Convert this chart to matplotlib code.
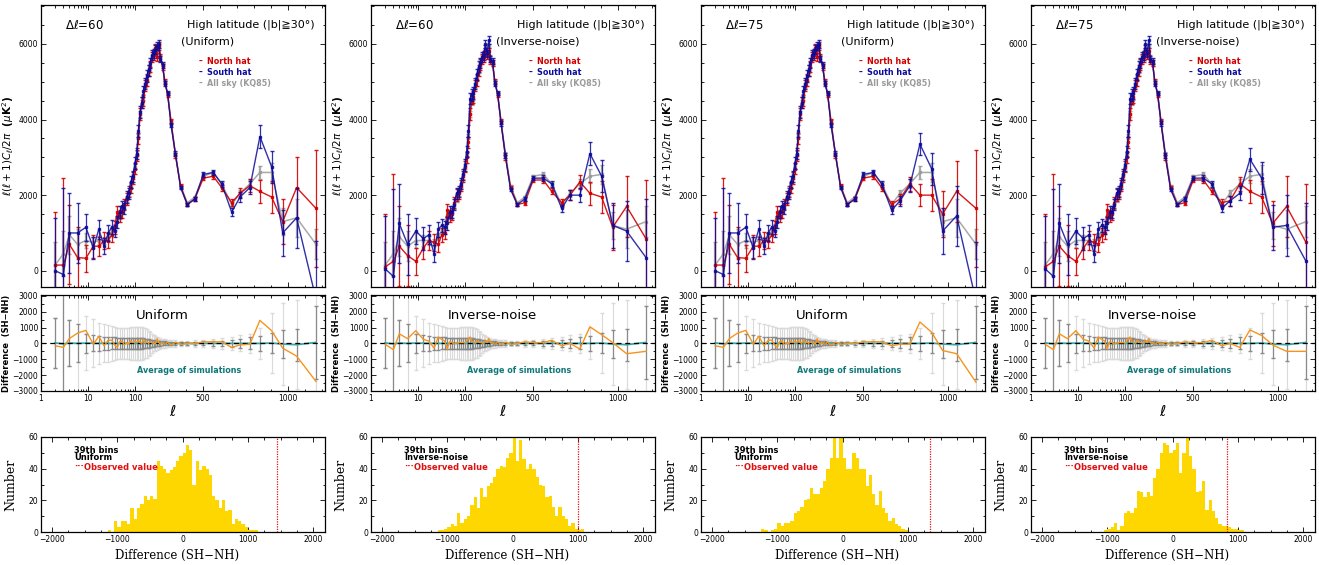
import numpy as np
import matplotlib
matplotlib.use("Agg")
import matplotlib.pyplot as plt
from matplotlib.ticker import FixedLocator, MultipleLocator, NullFormatter

# multipole bin centres
ell = [2, 3, 4, 6, 9, 13, 17, 22, 27, 32, 37, 42, 47, 53, 59, 66, 73, 81, 90,
       100, 110, 120, 130, 140, 150, 160, 170, 180, 190, 200, 210, 220, 230, 240, 250,
       262, 276, 292, 312, 338, 368, 408, 452, 502, 561, 610, 669, 718, 776,
       835, 904, 969, 1051, 1165]

# uniform weighting, dl=60
uni_nh = [150, 150, 700, 350, 330, 650, 650, 800, 800, 950, 1150, 1550, 1450, 1550, 1750, 1900, 2100, 2200, 2450,
          2700, 3050, 3500, 4150, 4450, 4500, 4900, 5050, 5300, 5400, 5650, 5700, 5900, 5650, 5950, 5650,
          5400, 5000, 4650, 3950, 3050, 2250, 1750, 1900, 2450, 2500, 2200, 1800, 2050, 2250,
          2100, 1950, 1300, 2200, 1650]
uni_sh = [0, -100, 1000, 1000, 1150, 600, 1100, 650, 1000, 1150, 1050, 1300, 1550, 1700, 1650, 1950, 2050, 2350, 2500,
          2850, 3100, 3700, 4200, 4450, 4750, 4950, 5150, 5300, 5500, 5700, 5750, 5850, 5950, 6000, 5600,
          5450, 4950, 4700, 3850, 3100, 2200, 1750, 1900, 2550, 2600, 2300, 1550, 1950, 2200,
          3550, 2750, 1000, 1400, -750]
uni_all = [150, 450, 950, 700, 800, 750, 800, 800, 900, 1050, 1150, 1350, 1450, 1600, 1700, 1900, 2050, 2250, 2500,
           2750, 3100, 3550, 4150, 4450, 4600, 4900, 5100, 5300, 5450, 5650, 5750, 5850, 5850, 5950, 5650,
           5450, 5000, 4700, 3950, 3100, 2250, 1800, 1950, 2500, 2600, 2300, 1750, 2050, 2300,
           2600, 2600, 1300, 1400, 700]

# inverse-noise weighting, dl=60
inv_nh = [100, 250, 650, 400, 250, 600, 800, 750, 700, 950, 1000, 1600, 1450, 1500, 1800, 2000, 2050, 2250, 2500,
          2750, 3000, 3400, 4150, 4550, 4600, 4900, 5050, 5300, 5450, 5600, 5650, 5850, 5700, 5800, 5550,
          5500, 5000, 4650, 3950, 3000, 2200, 1750, 1800, 2400, 2400, 2100, 1800, 2000, 2350,
          2050, 1950, 1150, 1700, 850]
inv_sh = [50, -150, 1250, 700, 1050, 850, 950, 450, 1100, 1200, 1150, 1250, 1550, 1550, 1750, 2050, 2100, 2300, 2550,
          2800, 3150, 3700, 4550, 4650, 4700, 4950, 5200, 5400, 5500, 5650, 5700, 6000, 5750, 6100, 5600,
          5550, 4950, 4700, 3900, 3050, 2150, 1750, 1900, 2450, 2450, 2300, 1650, 2000, 2000,
          3100, 2500, 1200, 1050, 350]
inv_all = [150, 450, 900, 650, 800, 800, 800, 750, 900, 1050, 1150, 1350, 1450, 1600, 1700, 1900, 2050, 2250, 2500,
           2750, 3100, 3550, 4150, 4450, 4600, 4900, 5100, 5300, 5450, 5650, 5750, 5850, 5850, 5950, 5650,
           5450, 5000, 4700, 3950, 3100, 2250, 1800, 1950, 2500, 2550, 2300, 1750, 2050, 2300,
           2500, 2550, 1200, 1100, 1300]

# high-l tails (l = 669 ... 1165) for dl=75
uni75_nh = [1750, 1900, 2300, 2000, 2000, 1500, 2100, 1650]
uni75_sh = [1600, 1850, 2250, 3350, 2700, 1050, 1450, -800]
inv75_nh = [1800, 1850, 2300, 2100, 1950, 1250, 1700, 750]
inv75_sh = [1650, 1850, 2050, 2950, 2450, 1150, 1200, 250]

err_hat = [1400, 2300, 1050, 800, 350, 300, 250, 220, 200, 180, 170, 160, 150, 150, 150, 150, 150, 150, 150,
           150, 150, 150, 150, 150, 150, 150, 150, 140, 140, 130, 120, 110, 100, 100, 90,
           80, 70, 60, 60, 60, 50, 50, 50, 60, 70, 80, 100, 130, 180,
           300, 420, 600, 800, 1550]
err_all = [600, 600, 500, 400, 200, 150, 120, 100, 90, 80, 80, 70, 70, 70, 70, 70, 70, 70, 70,
           70, 70, 70, 70, 70, 70, 70, 70, 70, 60, 60, 60, 50, 50, 50, 50,
           40, 40, 40, 40, 40, 30, 30, 30, 40, 50, 60, 70, 90, 120,
           180, 250, 350, 500, 400]

# simulations: mean and scatter of SH-NH
sim_mean = [30, -30, 20, 0, 20, 10, 0, 10, 0, 0, 10, 0, 0, 0, 0, 0, 0, 0, 0,
            0, 0, 0, 0, 0, 0, 0, 0, 0, 0, 0, 0, 0, 0, 0, 0,
            0, 0, 0, 0, 0, 0, 0, 0, 0, 0, 0, 0, 0, 0,
            0, 20, -40, -80, 60]
sim_sd1 = [1550, 3500, 1450, 1200, 600, 500, 450, 420, 400, 380, 370, 360, 350, 350, 350, 350, 350, 350, 350,
           350, 350, 350, 340, 330, 320, 300, 280, 260, 240, 220, 200, 180, 160, 150, 140,
           130, 120, 110, 100, 90, 90, 100, 110, 130, 150, 180, 220, 280, 380,
           450, 650, 900, 1000, 2300]
sim_sd2 = [1550, 3500, 1450, 3500, 1700, 1500, 1300, 1200, 1150, 1100, 1050, 1000, 1000, 1000, 1000, 1000, 1000, 1050, 1050,
           1050, 1050, 1050, 1050, 1050, 1000, 950, 900, 800, 700, 600, 500, 450, 400, 350, 300,
           280, 260, 240, 220, 200, 180, 170, 200, 230, 280, 330, 400, 500, 600,
           1000, 1900, 2600, 2800, 3500]

# histograms of the 39th bin (bin width 50)
hist_width = 50
hist1_start, hist1 = -1150, [1, 0, 7, 3, 7, 7, 5, 15, 8, 15, 18, 23, 20, 23, 21, 45, 42, 40, 37, 39, 41, 45, 48,
                             50, 55, 52, 30, 45, 39, 42, 40, 36, 23, 20, 15, 20, 13, 14, 5, 8, 7, 5, 3, 1, 1, 1]
hist2_start, hist2 = -1150, [1, 1, 2, 3, 5, 4, 12, 6, 8, 10, 17, 22, 15, 28, 22, 29, 31, 35, 40, 42, 41, 47, 50,
                             60, 45, 58, 46, 40, 43, 40, 35, 30, 29, 22, 23, 16, 10, 16, 10, 8, 4, 6, 2, 1, 2]
hist3_start, hist3 = -1250, [2, 1, 0, 1, 2, 6, 4, 6, 6, 7, 12, 13, 16, 20, 21, 28, 24, 24, 28, 32, 40, 47, 60,
                             47, 60, 47, 40, 40, 50, 47, 40, 40, 29, 36, 24, 17, 26, 15, 12, 7, 9, 5, 4, 2, 1]
hist4_start, hist4 = -1050, [1, 2, 3, 6, 1, 4, 12, 13, 12, 15, 26, 25, 22, 25, 23, 34, 40, 50, 56, 55, 50, 52,
                             56, 37, 50, 60, 48, 40, 25, 26, 32, 14, 20, 13, 9, 5, 4, 4, 3, 2, 2, 1, 1]
observed = [1450, 1000, 1330, 830]

columns = [
    dict(dl=60, w='Uniform', nh=uni_nh, sh=uni_sh, al=uni_all, hs=hist1_start, h=hist1),
    dict(dl=60, w='Inverse-noise', nh=inv_nh, sh=inv_sh, al=inv_all, hs=hist2_start, h=hist2),
    dict(dl=75, w='Uniform', nh=uni_nh[:46] + uni75_nh, sh=uni_sh[:46] + uni75_sh, al=uni_all, hs=hist3_start, h=hist3),
    dict(dl=75, w='Inverse-noise', nh=inv_nh[:46] + inv75_nh, sh=inv_sh[:46] + inv75_sh, al=inv_all, hs=hist4_start, h=hist4),
]

RED = '#d40000'
BLUE = '#0c0c9c'
GREY = '#9a9a9a'
ORANGE = '#f7941d'
TEAL = '#107878'
GOLD = '#ffd700'

W, H = 1319, 565
fig = plt.figure(figsize=(W / 100, H / 100), dpi=100)

# log below l=100, linear above
K = 0.17 / 47.0


def fwd(x):
    x = np.asarray(x, dtype=float)
    lg = np.log10(np.clip(x, 1e-3, None))
    return np.where(x < 100, lg, 2 + (x - 100) * K)


def inv(y):
    y = np.asarray(y, dtype=float)
    return np.where(y < 2, 10.0 ** np.minimum(y, 2), 100 + (y - 2) / K)


def add_ax(left, top, right, bottom):
    return fig.add_axes([left / W, 1 - bottom / H, (right - left) / W, (bottom - top) / H])


def style(ax):
    ax.tick_params(which='both', direction='in', top=True, right=True, labelsize=5.5, width=0.6, pad=2)
    ax.tick_params(which='major', length=3.5)
    ax.tick_params(which='minor', length=1.8)
    for s in ax.spines.values():
        s.set_linewidth(0.9)


def ell_axis(ax, labels):
    ax.set_xscale('function', functions=(fwd, inv))
    ax.set_xlim(1, 1218)
    ax.xaxis.set_major_locator(FixedLocator([1, 10, 100, 500, 1000]))
    minors = [2, 3, 4, 5, 6, 7, 8, 9, 20, 30, 40, 50, 60, 70, 80, 90,
              200, 300, 400, 600, 700, 800, 900, 1100, 1200]
    ax.xaxis.set_minor_locator(FixedLocator(minors))
    ax.xaxis.set_minor_formatter(NullFormatter())
    if labels:
        ax.set_xticklabels(['1', '10', '100', '500', '1000'])
    else:
        ax.xaxis.set_major_formatter(NullFormatter())


for i, c in enumerate(columns):
    x0 = 41 + 330 * i
    x1 = x0 + 284

    # spectra
    ax = add_ax(x0, 5, x1, 287)
    style(ax)
    ell_axis(ax, False)
    ax.set_ylim(-430, 7030)
    ax.yaxis.set_major_locator(MultipleLocator(2000))
    ax.yaxis.set_minor_locator(MultipleLocator(500))
    ax.errorbar(ell, c['al'], yerr=err_all, color=GREY, lw=1.1, elinewidth=1.6, capsize=1.2,
                marker='s', ms=1.5, alpha=0.85, zorder=2)
    ax.errorbar(ell, c['nh'], yerr=err_hat, color=RED, lw=1.0, elinewidth=0.9, capsize=1.2,
                marker='s', ms=1.6, alpha=0.9, zorder=3)
    ax.errorbar(ell, c['sh'], yerr=err_hat, color=BLUE, lw=1.0, elinewidth=0.9, capsize=1.2,
                marker='s', ms=1.6, alpha=0.85, zorder=4)
    ax.set_ylabel(r'$\ell(\ell+1)C_\ell/2\pi$  ($\mu$K$^2$)', fontsize=7.5, fontweight='bold')
    ax.yaxis.set_label_coords(-0.088, 0.5)
    ax.text(0.085, 0.929, r'$\Delta\ell$=' + str(c['dl']), transform=ax.transAxes,
            fontsize=8.5, va='center', ha='left')
    ax.text(0.965, 0.929, 'High latitude (|b|\u226730\u00b0)', transform=ax.transAxes,
            fontsize=8, va='center', ha='right')
    ax.text(0.588, 0.872, '(' + c['w'] + ')', transform=ax.transAxes,
            fontsize=8, va='center', ha='center')
    for yy, lab, col in [(0.801, 'North hat', RED), (0.762, 'South hat', BLUE),
                         (0.723, 'All sky (KQ85)', GREY)]:
        ax.text(0.556, yy, '\u2013', color=col, transform=ax.transAxes, fontsize=5.5,
                va='center', ha='left', fontweight='bold')
        ax.text(0.585, yy, lab, color=col, transform=ax.transAxes, fontsize=5.8,
                va='center', ha='left', fontweight='bold')

    # difference
    diff = [s - n for s, n in zip(c['sh'], c['nh'])]
    ax2 = add_ax(x0, 295, x1, 391)
    style(ax2)
    ell_axis(ax2, True)
    ax2.set_ylim(-3000, 3050)
    ax2.set_yticks([-3000, -2000, -1000, 0, 1000, 2000, 3000])
    ax2.yaxis.set_minor_locator(MultipleLocator(500))
    ax2.errorbar(ell, sim_mean, yerr=sim_sd2, fmt='none', ecolor='#dadada', elinewidth=0.8, capsize=1.2, zorder=1)
    ax2.errorbar(ell, sim_mean, yerr=sim_sd1, fmt='none', ecolor='#8a8a8a', elinewidth=0.9, capsize=1.2, zorder=2)
    ax2.plot(ell, sim_mean, color='#3aa6a6', lw=1.3, zorder=3)
    ax2.axhline(0, color='black', lw=0.9, ls=(0, (4, 3)), zorder=4)
    ax2.plot(ell, diff, color=ORANGE, lw=1.0, zorder=5)
    ax2.set_ylabel('Difference  (SH\u2212NH)', fontsize=6, fontweight='bold')
    ax2.yaxis.set_label_coords(-0.105, 0.5)
    ax2.text(0.426, 0.79, c['w'], transform=ax2.transAxes, fontsize=9.5, ha='center', va='center')
    ax2.text(0.52, 0.21, 'Average of simulations', transform=ax2.transAxes, fontsize=5.8,
             color=TEAL, fontweight='bold', ha='center', va='center')
    ax2.text(0.465, -0.21, r'$\ell$', transform=ax2.transAxes, fontsize=11, ha='center', va='center')

    # histogram
    ax3 = add_ax(x0, 437, x1, 532)
    style(ax3)
    edges = c['hs'] + hist_width * np.arange(len(c['h']) + 1)
    ax3.stairs(c['h'], edges, fill=True, color=GOLD, zorder=2)
    ax3.axvline(observed[i], color='#e01010', ls=(0, (1, 1)), lw=0.9, zorder=3)
    ax3.set_xlim(-2170, 2180)
    ax3.set_ylim(0, 60)
    ax3.xaxis.set_major_locator(MultipleLocator(1000))
    ax3.xaxis.set_minor_locator(MultipleLocator(250))
    ax3.yaxis.set_major_locator(MultipleLocator(20))
    ax3.yaxis.set_minor_locator(MultipleLocator(10))
    ax3.set_ylabel('Number', fontsize=9, family='DejaVu Serif')
    ax3.yaxis.set_label_coords(-0.085, 0.5)
    ax3.set_xlabel('Difference (SH\u2212NH)', fontsize=8.5, family='DejaVu Serif')
    ax3.xaxis.set_label_coords(0.48, -0.175)
    ax3.text(0.116, 0.863, '39th bins', transform=ax3.transAxes, fontsize=6, fontweight='bold', va='center')
    ax3.text(0.116, 0.779, c['w'], transform=ax3.transAxes, fontsize=6, fontweight='bold', va='center')
    ax3.text(0.118, 0.684, '\u00b7\u00b7\u00b7', transform=ax3.transAxes, fontsize=6, color='#e01010',
             fontweight='bold', va='center')
    ax3.text(0.151, 0.684, 'Observed value', transform=ax3.transAxes, fontsize=6, color='#e01010',
             fontweight='bold', va='center')

fig.savefig('out.png', dpi=100)
